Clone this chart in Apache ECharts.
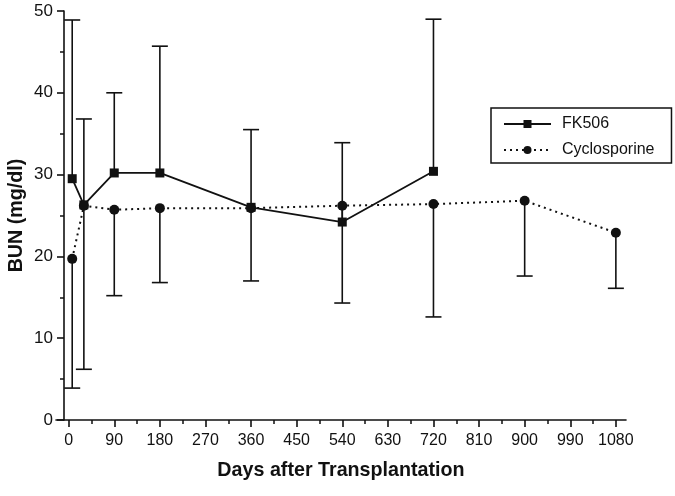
<!DOCTYPE html>
<html><head><meta charset="utf-8">
<script src="https://cdn.jsdelivr.net/npm/echarts@6/dist/echarts.min.js"></script>
<style>html,body{margin:0;padding:0;background:#fff}#c{width:675px;height:496px}</style>
</head><body><div id="c"></div>
<script>
// ---- data ----
const fkDays  = [7, 30, 90, 180, 360, 540, 720];
const fkMean  = [29.5, 26.3, 30.2, 30.2, 26.0, 24.2, 30.4];
const fkUpper = [48.9, 36.8, 40.0, 45.7, 35.5, 33.9, 49.0];

const csDays  = [7, 30, 90, 180, 360, 540, 720, 900, 1080];
const csMean  = [19.7, 26.2, 25.7, 25.9, 25.9, 26.2, 26.4, 26.8, 22.9];
const csLower = [3.9, 6.2, 15.2, 16.8, 17.0, 14.3, 12.6, 17.6, 16.1];

const xMajorTicks = [0, 90, 180, 270, 360, 450, 540, 630, 720, 810, 900, 990, 1080];
const xMinorTicks = [45, 135, 225, 315, 405, 495, 585, 675, 765, 855, 945, 1035];

const seriesNames = ['FK506', 'Cyclosporine'];
const xTitle = 'Days after Transplantation';
const yTitle = 'BUN (mg/dl)';

// ---- chart ----
const FONT = '"Liberation Sans", Arial, sans-serif';
const INK = '#111';
const chart = echarts.init(document.getElementById('c'), null, {renderer: 'canvas'});

function errRender(params, api) {
  const x = api.value(0), m = api.value(1), b = api.value(2);
  const p0 = api.coord([x, m]);
  const p1 = api.coord([x, b]);
  const hw = 8;
  return {
    type: 'group',
    children: [
      {type: 'line', shape: {x1: p0[0], y1: p0[1], x2: p1[0], y2: p1[1]}, style: {stroke: INK, lineWidth: 1.6}},
      {type: 'line', shape: {x1: p1[0] - hw, y1: p1[1], x2: p1[0] + hw, y2: p1[1]}, style: {stroke: INK, lineWidth: 1.6}}
    ]
  };
}

const option = {
  animation: false,
  backgroundColor: '#fff',
  color: [INK, INK],
  textStyle: {fontFamily: FONT, color: INK},
  grid: {left: 56, right: 49, top: 11, bottom: 76, containLabel: false, outerBoundsMode: 'none'},
  legend: {
    data: seriesNames,
    orient: 'vertical',
    left: 491, top: 108,
    backgroundColor: '#fff',
    borderColor: INK, borderWidth: 1.5,
    padding: [8, 17, 5, 12],
    itemWidth: 47, itemHeight: 10, itemGap: 10,
    textStyle: {fontFamily: FONT, fontSize: 16, color: INK, padding: [0, 0, 0, 6]}
  },
  xAxis: [{
    type: 'value', min: -25, max: 1100, position: 'bottom',
    axisLine: {onZero: false, lineStyle: {color: INK, width: 1.6}},
    axisTick: {customValues: xMajorTicks, length: 7, lineStyle: {color: INK, width: 1.6}},
    axisLabel: {customValues: xMajorTicks, formatter: v => String(v), fontFamily: FONT, fontSize: 16, color: INK, margin: 13},
    splitLine: {show: false},
    name: xTitle, nameLocation: 'middle', nameGap: 41,
    nameTextStyle: {fontFamily: FONT, fontSize: 19.7, fontWeight: 'bold', color: INK}
  }, {
    type: 'value', min: -25, max: 1100, position: 'bottom', offset: 0,
    axisLine: {show: false},
    axisTick: {customValues: xMinorTicks, length: 4, lineStyle: {color: INK, width: 1.5}},
    axisLabel: {show: false},
    splitLine: {show: false}
  }],
  yAxis: {
    type: 'value', min: 0, max: 50, interval: 10, offset: -8,
    axisLine: {show: true, onZero: false, lineStyle: {color: INK, width: 1.6}},
    axisTick: {show: true, length: 7, lineStyle: {color: INK, width: 1.6}},
    minorTick: {show: true, splitNumber: 2, length: 4, lineStyle: {color: INK, width: 1.5}},
    axisLabel: {fontFamily: FONT, fontSize: 17, color: INK, margin: 11},
    splitLine: {show: false},
    name: yTitle, nameLocation: 'middle', nameGap: 37, nameRotate: 90, nameMoveOverlap: false,
    nameTextStyle: {fontFamily: FONT, fontSize: 19.7, fontWeight: 'bold', color: INK}
  },
  series: [
    {
      name: 'fkErr', type: 'custom', silent: true, z: 1,
      renderItem: errRender, encode: {x: 0, y: 1},
      data: fkDays.map((d, i) => [d, fkMean[i], fkUpper[i]])
    },
    {
      name: 'csErr', type: 'custom', silent: true, z: 1,
      renderItem: errRender, encode: {x: 0, y: 1},
      data: csDays.map((d, i) => [d, csMean[i], csLower[i]])
    },
    {
      name: seriesNames[0], type: 'line', z: 3,
      symbol: 'rect', symbolSize: 9,
      lineStyle: {color: INK, width: 1.8},
      itemStyle: {color: INK},
      data: fkDays.map((d, i) => [d, fkMean[i]])
    },
    {
      name: seriesNames[1], type: 'line', z: 4,
      symbol: 'circle', symbolSize: 10,
      lineStyle: {color: INK, width: 2, type: [2, 4]},
      itemStyle: {color: INK},
      data: csDays.map((d, i) => [d, csMean[i]])
    }
  ]
};
chart.setOption(option);
</script>
</body></html>
